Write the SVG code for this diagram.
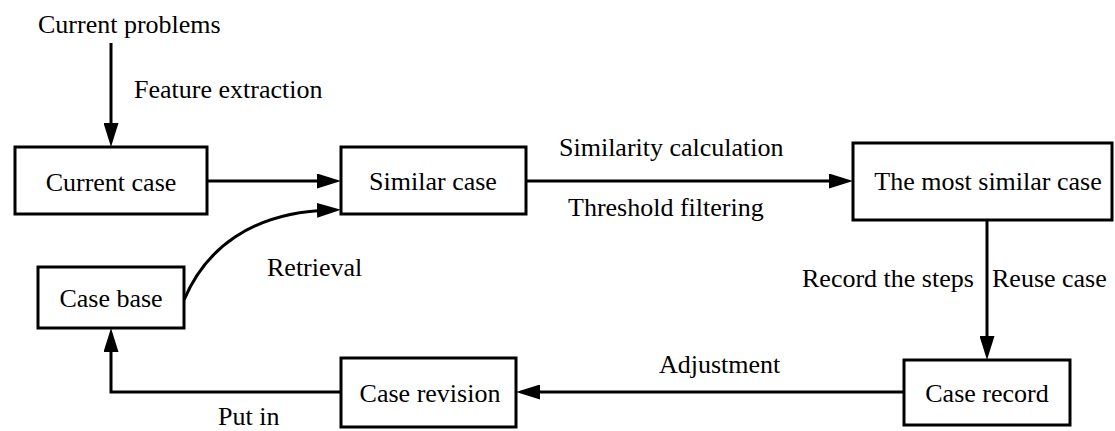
<svg xmlns="http://www.w3.org/2000/svg" width="1115" height="431" viewBox="0 0 1115 431">
  <style>
    .box { fill: #ffffff; stroke: #000000; stroke-width: 3; }
    .lbl { font-family: "Liberation Serif", "Times New Roman", serif; font-size: 26px; fill: #000000; }
    .mid { text-anchor: middle; }
    .edge { fill: none; stroke: #000000; stroke-width: 3; marker-end: url(#arrow); }
  </style>
  <defs>
    <!-- solid triangular head; the line stops 10px short of the tip -->
    <marker id="arrow" markerUnits="userSpaceOnUse" markerWidth="24" markerHeight="15" refX="14" refY="7.5" orient="auto">
      <path d="M0,0 L24,7.5 L0,15 z" fill="#000000"/>
    </marker>
  </defs>

  <rect width="1115" height="431" fill="#ffffff"/>

  <!-- connectors -->
  <g id="connectors">
    <path class="edge" d="M111,43 L111,137"/>
    <path class="edge" d="M207,181 L331,181"/>
    <path class="edge" d="M184,300 C205,250 250,212 331,210"/>
    <path class="edge" d="M526,181 L843,181"/>
    <path class="edge" d="M987,220 L987,350"/>
    <path class="edge" d="M904,392 L526,392"/>
    <path class="edge" d="M341,392 L111,392 L111,338"/>
  </g>

  <!-- connector labels -->
  <g id="labels">
    <text class="lbl" x="38" y="33">Current problems</text>
    <text class="lbl" x="134" y="98">Feature extraction</text>
    <text class="lbl" x="559" y="156">Similarity calculation</text>
    <text class="lbl" x="568" y="216">Threshold filtering</text>
    <text class="lbl" x="267" y="276">Retrieval</text>
    <text class="lbl" x="802" y="287">Record the steps</text>
    <text class="lbl" x="992" y="287">Reuse case</text>
    <text class="lbl" x="659" y="373">Adjustment</text>
    <text class="lbl" x="218" y="425">Put in</text>
  </g>

  <!-- nodes -->
  <g id="current-case">
    <rect class="box" x="15" y="147" width="192" height="67"/>
    <text class="lbl mid" x="111" y="191">Current case</text>
  </g>
  <g id="similar-case">
    <rect class="box" x="341" y="147" width="185" height="67"/>
    <text class="lbl mid" x="433" y="190">Similar case</text>
  </g>
  <g id="most-similar-case">
    <rect class="box" x="853" y="143" width="259" height="77"/>
    <text class="lbl mid" x="988" y="190">The most similar case</text>
  </g>
  <g id="case-base">
    <rect class="box" x="38" y="267" width="146" height="61"/>
    <text class="lbl mid" x="111" y="307">Case base</text>
  </g>
  <g id="case-revision">
    <rect class="box" x="341" y="358" width="175" height="69"/>
    <text class="lbl mid" x="430" y="402">Case revision</text>
  </g>
  <g id="case-record">
    <rect class="box" x="904" y="360" width="166" height="65"/>
    <text class="lbl mid" x="987" y="402">Case record</text>
  </g>
</svg>
